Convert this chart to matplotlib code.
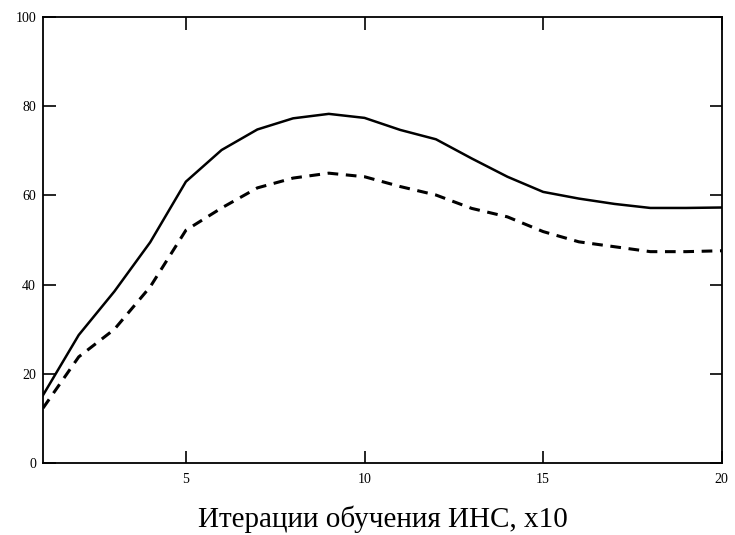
import matplotlib
matplotlib.use("Agg")
import matplotlib.pyplot as plt

# data
iterations = list(range(1, 21))
solid_vals = [15.2, 28.7, 38.5, 49.5, 63.1, 70.2, 74.8, 77.3, 78.3, 77.4,
              74.7, 72.6, 68.3, 64.2, 60.8, 59.3, 58.1, 57.2, 57.2, 57.3]
dashed_vals = [12.3, 23.8, 30.0, 39.5, 52.2, 57.2, 61.7, 63.9, 65.0, 64.2,
               62.0, 60.1, 57.1, 55.2, 51.9, 49.6, 48.5, 47.4, 47.4, 47.6]
x_ticks = [5, 10, 15, 20]
y_ticks = [0, 20, 40, 60, 80, 100]

plt.rcParams['font.family'] = ['Liberation Serif', 'DejaVu Serif']

fig = plt.figure(figsize=(7.35, 5.35), dpi=100)
ax = fig.add_axes([0.0585, 0.1346, 0.9235, 0.8334])

ax.plot(iterations, solid_vals, color='black', lw=1.8)
ax.plot(iterations, dashed_vals, color='black', lw=2.2, ls=(0, (3.5, 2.5)))

ax.set_xlim(1, 20)
ax.set_ylim(0, 100)
ax.set_xticks(x_ticks)
ax.set_yticks(y_ticks)
ax.tick_params(direction='in', length=9, width=1.2, top=True, right=True,
               labelsize=10)
ax.tick_params(axis='x', pad=7)
ax.tick_params(axis='y', pad=5)
for s in ax.spines.values():
    s.set_linewidth(1.3)

ax.set_xlabel('Итерации обучения ИНС, x10', fontsize=21, labelpad=14)

plt.savefig('out.png')
